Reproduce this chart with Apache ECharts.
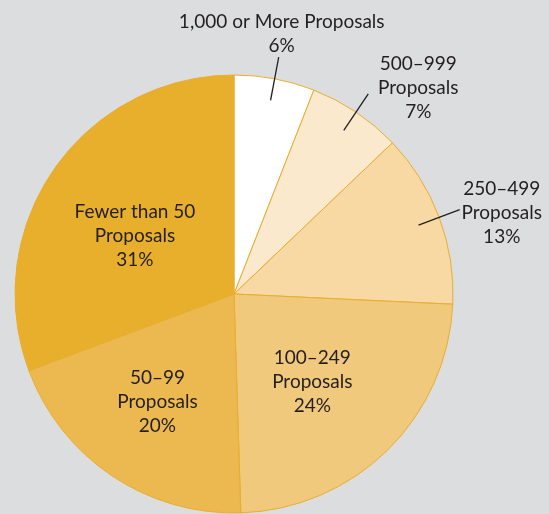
<!DOCTYPE html>
<html>
<head>
<meta charset="utf-8">
<script src="https://cdn.jsdelivr.net/npm/echarts@6/dist/echarts.min.js"></script>
<style>
  html, body { margin: 0; padding: 0; background: #dcdddf; }
  #chart { width: 549px; height: 514px; }
</style>
</head>
<body>
<div id="chart"></div>
<script>
// Share of applicants by number of proposals submitted
const categories = [
  '1,000 or More Proposals',
  '500–999\nProposals',
  '250–499\nProposals',
  '100–249\nProposals',
  '50–99\nProposals',
  'Fewer than 50\nProposals'
];
const shares = [6, 7, 13, 24, 20, 31];

// Slices labelled outside the pie (with leader lines) vs. inside it
const outsideLabelled = [true, true, true, false, false, false];

const sliceColors = ['#ffffff', '#fbe9cd', '#f8d9a3', '#f1c97c', '#ecb850', '#e7af2c'];
// Where each outside label block sits relative to the end of its leader line
const outsideLabelShift = [[3, -23], [50, -6], [42, 3]];
// Small nudges for the inside labels
const insideLabelShift = [null, null, null, [-8, 0], [-8, 6], [2, 12]];

const center = [234, 294];
const textStyle = {
  color: '#231f20',
  fontFamily: 'Lato, "Open Sans", sans-serif',
  fontSize: 19,
  lineHeight: 24,
  align: 'center'
};

const fillData = categories.map((name, i) => ({
  name, value: shares[i],
  itemStyle: { color: sliceColors[i] }
}));

function labelData(wantOutside) {
  return categories.map((name, i) => ({
    name, value: shares[i],
    label: { show: outsideLabelled[i] === wantOutside },
    labelLine: { show: outsideLabelled[i] === wantOutside }
  }));
}

const chart = echarts.init(document.getElementById('chart'), null, { renderer: 'canvas' });
chart.setOption({
  backgroundColor: '#dcdddf',
  animation: false,
  series: [
    {
      // coloured slices
      type: 'pie',
      z: 1,
      center, radius: [0, 219],
      startAngle: 90, clockwise: true,
      silent: true,
      label: { show: false }, labelLine: { show: false },
      itemStyle: { borderColor: '#e8ae30', borderWidth: 1 },
      data: fillData
    },
    {
      // outside labels; leader lines start inside their slice
      type: 'pie',
      z: 5,
      center, radius: [0, 197],
      startAngle: 90, clockwise: true,
      silent: true,
      avoidLabelOverlap: false,
      itemStyle: { color: 'rgba(0,0,0,0)', borderWidth: 0 },
      label: {
        position: 'outside',
        formatter: p => p.name + '\n' + p.value + '%',
        ...textStyle
      },
      labelLine: {
        length: 44, length2: 0, smooth: false,
        lineStyle: { color: '#231f20', width: 1.3 }
      },
      labelLayout: params => {
        const pts = params.labelLinePoints;
        if (!pts) return {};
        const end = pts[pts.length - 1];
        const shift = outsideLabelShift[params.dataIndex] || [0, 0];
        return {
          x: end[0] + shift[0],
          y: end[1] + shift[1],
          align: 'center',
          verticalAlign: 'middle',
          labelLinePoints: pts
        };
      },
      data: labelData(true)
    },
    {
      // labels placed inside the larger slices
      type: 'pie',
      z: 5,
      center, radius: [0, 240],
      startAngle: 90, clockwise: true,
      silent: true,
      itemStyle: { color: 'rgba(0,0,0,0)', borderWidth: 0 },
      label: {
        position: 'inside',
        formatter: p => p.name + '\n' + p.value + '%',
        ...textStyle
      },
      labelLine: { show: false },
      labelLayout: params => {
        const shift = insideLabelShift[params.dataIndex];
        if (!shift) return {};
        const r = params.labelRect;
        return {
          x: r.x + r.width / 2 + shift[0],
          y: r.y + r.height / 2 + shift[1],
          align: 'center',
          verticalAlign: 'middle'
        };
      },
      data: labelData(false)
    }
  ]
});
</script>
</body>
</html>
